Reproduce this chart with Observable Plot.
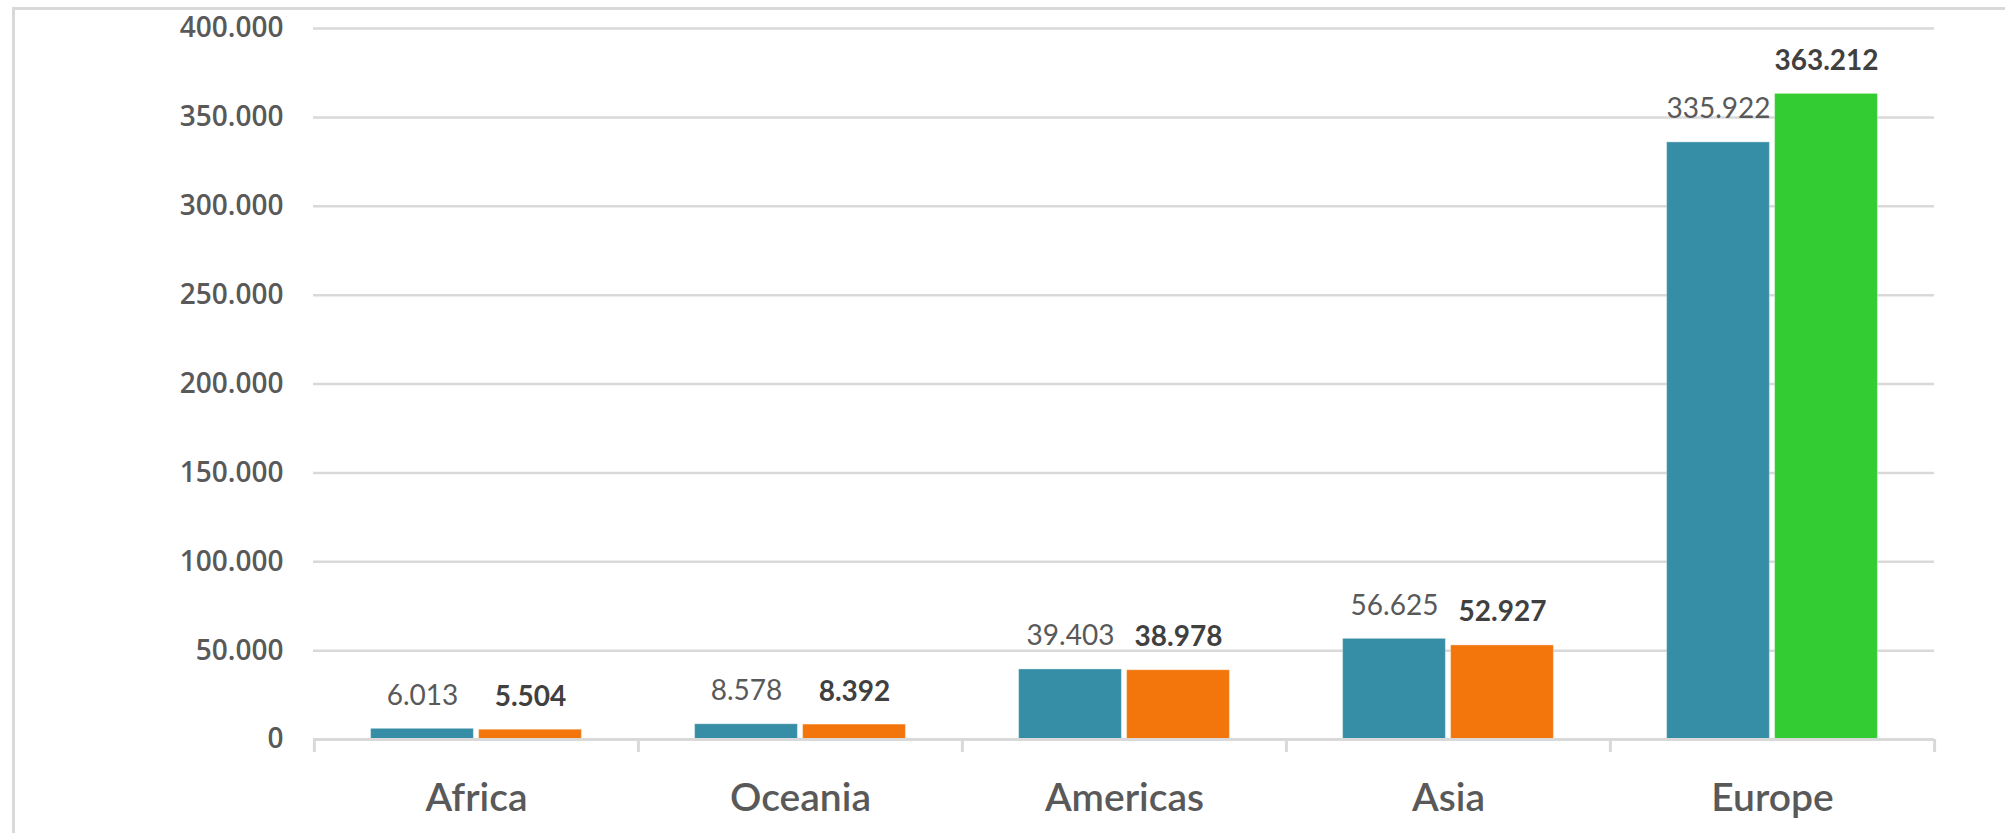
<!DOCTYPE html>
<html>
<head>
<meta charset="utf-8">
<script src="https://cdn.jsdelivr.net/npm/d3@7"></script>
<script src="https://cdn.jsdelivr.net/npm/@observablehq/plot@0.6"></script>
<style>
  html, body { margin: 0; padding: 0; background: #ffffff; overflow: hidden; }
  #chart { position: relative; width: 2005px; height: 833px; }
  #chart svg { display: block; }
  #frame {
    position: absolute; left: 12px; top: 7px; width: 2100px; height: 900px;
    border-left: 3px solid #d9d9d9; border-top: 3px solid #d9d9d9;
    pointer-events: none;
  }
</style>
</head>
<body>
<div id="chart"><div id="frame"></div></div>
<script>
// ---- data ----
const categories = ["Africa", "Oceania", "Americas", "Asia", "Europe"];
const series1 = [6013, 8578, 39403, 56625, 335922];
const series2 = [5504, 8392, 38978, 52927, 363212];
const yTicks = [0, 50000, 100000, 150000, 200000, 250000, 300000, 350000, 400000];

const rows1 = categories.map((c, i) => ({cat: c, value: series1[i]}));
const rows2 = categories.map((c, i) => ({cat: c, value: series2[i]}));

const fmt = d3.formatLocale({decimal: ",", thousands: ".", grouping: [3], currency: ["", ""]}).format(",d");

const W = 2005, H = 833;
const marginLeft = 313, marginRight = 71, marginTop = 28, marginBottom = 94;
const band = (W - marginLeft - marginRight) / categories.length;
const barW = 103, gap = 5;
const outer = (band - 2 * barW - gap) / 2;
const off = (barW + gap) / 2;

const grid = "#d9d9d9";
const blue = "#368EA6", orange = "#F3760C", green = "#33CC33";

const plot = Plot.plot({
  width: W,
  height: H,
  marginLeft, marginRight, marginTop, marginBottom,
  style: {background: "transparent", color: "#595959", overflow: "visible"},
  x: {type: "band", domain: categories, padding: 0, label: null},
  y: {domain: [0, 400000], label: null},
  marks: [
    Plot.ruleY(yTicks.filter(d => d > 0), {stroke: grid, strokeWidth: 2.5}),
    Plot.barY(rows1, {x: "cat", y: "value", fill: blue, stroke: "#ffffff", strokeOpacity: 0.35, strokeWidth: 1,
      insetLeft: outer, insetRight: band - outer - barW}),
    Plot.barY(rows2, {x: "cat", y: "value", fill: d => d.cat === "Europe" ? green : orange,
      stroke: "#ffffff", strokeOpacity: 0.35, strokeWidth: 1,
      insetLeft: outer + barW + gap, insetRight: outer}),
    Plot.ruleY([0], {stroke: grid, strokeWidth: 3}),
    Plot.ruleX(categories, {x: d => d, y1: 0, y2: 0, dx: -band / 2, insetBottom: -13, stroke: grid, strokeWidth: 3}),
    Plot.ruleX([categories[categories.length - 1]], {x: d => d, y1: 0, y2: 0, dx: band / 2, insetBottom: -13, stroke: grid, strokeWidth: 3}),
    Plot.text(rows1, {x: "cat", y: "value", text: d => fmt(d.value), dx: -off, dy: -24, lineAnchor: "bottom",
      fontFamily: "Lato", fontSize: 28, fontWeight: 400, fill: "#595959"}),
    Plot.text(rows2, {x: "cat", y: "value", text: d => fmt(d.value), dx: off, dy: -24, lineAnchor: "bottom",
      fontFamily: "Lato", fontSize: 28, fontWeight: 700, fill: "#404040"}),
    Plot.axisY({ticks: yTicks, tickFormat: fmt, tickSize: 0, tickPadding: 30,
      fontFamily: "Open Sans", fontSize: 28, fontWeight: 600, fill: "#595959", label: null}),
    Plot.axisX({tickSize: 0, tickPadding: 44, fontFamily: "Lato", fontSize: 39, fontWeight: 600, fill: "#595959", label: null})
  ]
});
document.getElementById("chart").prepend(plot);
</script>
</body>
</html>
